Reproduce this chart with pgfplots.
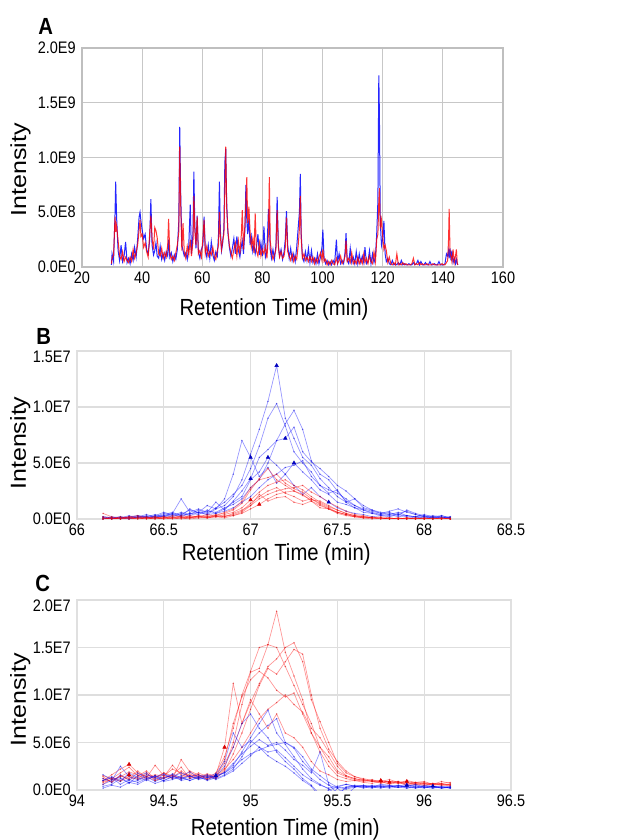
\documentclass[border=0pt]{standalone}
\usepackage{pgfplots}
\pgfplotsset{compat=1.18}
\usepackage{pgfplotstable}
\usepackage{graphicx}
\usepackage{fontspec}
\setmainfont{Liberation Sans}[FakeStretch=0.87]
\newfontfamily\plainsans{Liberation Sans}

% panel A: total ion chromatograms (intensity in 1E8)
\pgfplotstableread{
t b r
29.8 0.2 0.3
30.0 1.2 0.8
30.5 0.5 1.1
31.0 5.0 4.6
31.2 7.8 3.2
31.5 4.6 3.8
32.0 1.5 2.4
32.5 0.6 1.0
33.0 2.0 0.7
33.5 0.5 1.4
34.0 1.0 0.5
34.5 2.3 0.9
35.0 0.4 0.6
35.5 0.8 0.4
36.0 0.3 0.9
36.5 1.2 0.5
37.0 0.6 1.6
37.5 1.8 0.8
38.0 0.9 1.3
38.5 2.5 2.0
39.0 4.6 3.4
39.3 5.0 4.3
39.6 4.2 2.8
40.0 3.4 3.0
40.5 2.6 1.8
41.0 3.0 2.2
41.5 1.6 1.4
42.0 1.2 0.9
42.5 2.4 3.0
42.9 6.2 4.7
43.3 2.0 2.6
43.8 1.1 1.6
44.2 1.5 3.6
44.6 2.2 3.3
45.0 1.0 2.7
45.5 0.8 1.2
46.0 1.9 1.0
46.5 0.7 1.7
47.0 1.2 0.8
47.5 0.6 1.3
48.0 1.4 0.9
48.5 1.0 2.0
48.8 2.5 4.4
49.2 0.9 1.2
49.7 1.3 0.7
50.2 0.5 1.0
50.7 1.1 0.6
51.2 0.7 1.3
51.7 1.6 2.0
52.2 4.2 3.2
52.5 12.8 11.0
52.8 7.0 6.0
53.2 2.0 1.5
53.6 1.5 4.0
54.0 1.0 1.4
54.5 1.3 0.8
55.0 0.7 1.9
55.5 1.9 1.1
56.0 5.7 2.5
56.4 1.2 1.0
56.9 3.0 2.3
57.2 8.7 6.5
57.5 4.0 3.4
57.9 1.7 2.0
58.3 4.7 4.6
58.7 1.4 1.2
59.2 0.8 1.5
59.7 1.6 0.9
60.2 2.0 2.6
60.6 4.6 4.3
61.0 1.6 1.2
61.5 0.9 1.9
62.0 2.0 1.0
62.5 0.8 1.4
63.0 2.3 1.1
63.5 1.1 1.8
64.0 0.6 1.0
64.5 1.4 0.7
65.0 1.0 1.5
65.4 3.0 2.0
65.7 7.8 5.0
66.0 3.5 2.8
66.4 1.5 1.6
66.8 2.2 2.5
67.2 3.6 3.0
67.5 9.5 7.0
67.8 10.8 11.0
68.1 6.0 5.5
68.5 3.2 3.4
69.0 1.8 2.0
69.5 1.0 1.3
70.0 1.7 0.8
70.5 2.6 1.6
71.0 1.2 2.2
71.5 2.8 1.0
72.0 1.5 2.4
72.5 0.9 1.2
73.0 1.9 3.0
73.3 2.4 5.2
73.7 1.2 1.6
74.2 3.5 4.0
74.5 7.5 6.0
74.8 4.3 8.2
75.1 3.0 4.0
75.5 4.4 5.5
75.9 2.0 3.2
76.3 2.8 1.8
76.8 1.4 2.6
77.2 2.0 1.3
77.6 1.2 4.9
78.0 1.8 1.5
78.5 3.0 1.0
79.0 1.1 2.2
79.5 2.2 1.0
80.0 1.0 1.6
80.5 3.7 1.2
81.0 0.9 1.9
81.5 1.4 0.8
82.0 5.3 3.0
82.3 4.0 8.2
82.6 1.6 2.4
83.0 0.8 1.3
83.5 1.6 0.7
84.0 0.7 1.1
84.5 2.0 1.6
84.9 6.4 5.2
85.3 2.0 1.8
85.7 1.0 0.9
86.2 1.6 1.4
86.7 0.7 0.8
87.2 1.4 1.0
87.6 2.5 1.8
88.0 5.1 4.5
88.4 2.0 1.4
88.9 0.8 1.0
89.4 1.7 0.6
89.9 0.6 1.2
90.4 1.2 0.5
90.9 0.5 1.0
91.4 1.8 0.7
91.9 3.6 2.0
92.3 5.0 3.5
92.6 8.5 6.5
92.9 3.0 2.6
93.3 0.9 0.8
93.8 0.5 1.2
94.3 1.4 0.6
94.8 0.6 0.9
95.3 1.7 0.5
95.8 0.4 1.0
96.3 1.5 0.5
96.8 0.4 0.9
97.3 0.8 0.3
97.8 0.3 0.8
98.3 1.2 0.4
98.8 0.3 0.9
99.3 0.9 1.3
99.8 1.8 0.6
100.1 3.4 1.6
100.5 0.8 0.5
101.0 0.3 0.7
101.5 0.6 0.2
102.0 0.2 0.5
102.5 0.5 0.2
103.0 0.2 0.6
103.5 0.6 0.3
104.0 0.3 0.2
104.6 2.5 0.8
105.0 0.4 0.3
105.5 1.2 0.6
106.0 0.3 1.0
106.5 0.6 0.3
107.0 0.3 0.5
107.5 1.4 1.0
107.8 3.1 2.4
108.2 0.6 0.5
108.7 0.3 0.8
109.2 1.7 0.4
109.7 0.4 1.3
110.2 0.9 0.3
110.7 0.3 0.6
111.2 1.4 0.3
111.7 0.3 0.9
112.2 1.2 0.3
112.7 0.4 0.7
113.2 1.0 0.3
113.7 0.4 1.2
114.1 1.8 0.4
114.6 0.3 0.8
115.1 0.5 0.3
115.6 1.5 1.0
116.1 0.3 0.5
116.6 1.2 0.3
117.1 0.4 1.4
117.6 1.0 0.5
118.0 3.0 2.5
118.4 6.0 3.0
118.7 17.5 6.0
118.9 14.0 7.2
119.2 4.0 3.5
119.6 2.0 4.3
120.0 2.6 2.8
120.4 4.2 1.6
120.8 1.2 2.0
121.2 0.5 1.5
121.7 0.8 0.4
122.2 0.3 0.9
122.7 0.2 0.3
123.2 0.6 0.2
123.7 0.2 0.4
124.2 0.3 0.2
124.7 0.2 1.2
125.2 0.4 0.2
125.7 0.2 0.3
126.2 0.6 0.2
126.7 0.2 0.4
127.2 0.3 0.2
127.7 0.2 0.3
128.2 0.2 0.2
128.7 0.3 0.2
129.2 0.2 0.2
129.7 0.2 0.3
130.2 0.4 0.8
130.7 0.2 0.2
131.2 0.3 0.3
131.7 0.6 0.2
132.2 0.2 0.4
132.7 0.5 0.2
133.2 0.2 0.3
133.7 0.2 0.2
134.2 0.4 0.2
134.7 0.2 0.3
135.2 0.2 0.2
135.7 0.5 0.2
136.2 0.2 0.2
136.7 0.2 0.3
137.2 0.3 0.2
137.7 0.2 0.2
138.2 0.2 0.2
138.7 0.5 0.2
139.2 0.2 0.2
139.7 0.2 0.3
140.2 0.2 0.2
140.7 0.3 0.2
141.2 1.2 0.4
141.6 1.0 0.6
141.9 1.5 2.6
142.1 0.8 5.3
142.4 1.7 1.2
142.7 0.6 1.0
143.0 1.5 0.5
143.4 0.4 1.6
143.8 0.8 0.4
144.2 0.3 1.0
144.5 0.7 1.6
144.8 0.3 0.3
145.0 0.2 0.2
}\dataA

% panel B: extracted ion chromatograms (intensity in 1E6)
\pgfplotstableread{
t b1 b2 b3 b4 b5 b6 b7
66.15 0.1 0.2 0.0 0.1 0.2 0.1 0.0
66.20 0.0 0.1 0.1 0.0 0.1 0.2 0.1
66.25 0.1 0.0 0.2 0.1 0.2 0.1 0.1
66.30 0.1 0.2 0.1 0.3 0.0 0.2 0.0
66.35 0.2 0.1 0.3 0.1 0.2 0.3 0.2
66.40 0.1 0.3 0.2 0.2 0.4 0.1 0.2
66.45 0.3 0.2 0.1 0.4 0.2 0.3 0.1
66.50 0.2 0.5 0.4 0.2 0.3 0.6 0.3
66.55 0.4 0.3 0.6 0.5 0.5 0.4 0.2
66.60 0.3 0.6 0.3 1.8 0.4 0.2 0.5
66.65 0.5 0.4 0.9 0.6 0.8 0.5 0.3
66.70 0.6 0.8 0.5 0.9 0.6 0.4 0.6
66.75 0.4 0.5 0.7 0.6 1.2 0.8 0.4
66.80 0.9 1.0 0.6 1.5 0.9 0.5 0.5
66.85 1.2 1.5 1.0 0.8 1.8 0.9 0.7
66.90 2.0 2.2 1.3 1.6 4.0 1.5 1.0
66.95 3.5 3.0 1.8 2.5 7.0 2.0 1.5
67.00 5.8 4.5 2.8 3.6 5.5 3.5 2.0
67.05 8.0 6.5 3.5 5.5 3.8 4.2 2.8
67.10 10.5 9.0 5.0 6.2 4.6 5.5 3.5
67.15 13.7 10.3 7.0 7.0 3.2 4.8 4.0
67.20 9.0 8.3 8.5 7.2 4.0 4.0 4.6
67.25 7.2 6.0 9.7 8.2 3.0 5.0 4.8
67.30 5.5 5.0 8.0 6.0 2.2 4.2 5.2
67.35 4.8 4.2 5.2 5.1 2.8 3.5 3.8
67.40 3.6 3.0 4.0 4.5 2.0 2.6 3.0
67.45 2.8 2.6 3.5 3.8 1.5 2.2 2.3
67.50 2.0 2.3 2.5 3.0 1.0 1.5 2.6
67.55 1.5 1.8 1.6 2.5 0.7 1.3 1.5
67.60 1.0 1.2 1.2 1.8 0.5 1.0 1.8
67.65 0.6 0.8 0.9 1.2 0.4 0.8 1.0
67.70 0.5 0.5 0.7 0.8 0.2 0.6 0.8
67.75 0.3 0.4 0.5 0.5 0.3 0.4 0.6
67.80 0.4 0.6 0.4 0.7 0.2 0.3 0.5
67.85 0.2 0.3 0.6 0.9 0.4 0.5 0.4
67.90 0.3 0.8 0.3 0.6 0.2 0.7 0.3
67.95 0.2 0.5 0.2 0.4 0.1 0.4 0.2
68.00 0.1 0.3 0.4 0.2 0.2 0.2 0.3
68.05 0.2 0.2 0.2 0.3 0.1 0.1 0.1
68.10 0.1 0.3 0.1 0.2 0.3 0.2 0.1
68.15 0.1 0.1 0.2 0.1 0.1 0.0 0.2
}\dataBblue

\pgfplotstableread{
t r1 r2 r3 r4 r5 r6 r7
66.15 0.5 0.1 0.2 0.0 0.1 0.0 0.0
66.20 0.2 0.0 0.1 0.1 0.0 0.0 0.1
66.25 0.1 0.2 0.0 0.0 0.1 0.1 0.0
66.30 0.2 0.1 0.1 0.2 0.0 0.1 0.0
66.35 0.3 0.1 0.2 0.0 0.1 0.0 0.1
66.40 0.1 0.2 0.1 0.1 0.0 0.1 0.0
66.45 0.2 0.1 0.0 0.2 0.1 0.0 0.1
66.50 0.1 0.2 0.1 0.0 0.2 0.1 0.0
66.55 0.3 0.1 0.2 0.1 0.0 0.1 0.1
66.60 0.2 0.3 0.1 0.2 0.1 0.0 0.1
66.65 0.1 0.2 0.3 0.1 0.2 0.1 0.0
66.70 0.3 0.2 0.2 0.3 0.1 0.2 0.1
66.75 0.2 0.4 0.3 0.1 0.2 0.1 0.1
66.80 0.4 0.3 0.2 0.3 0.3 0.2 0.2
66.85 0.5 0.6 0.4 0.2 0.2 0.3 0.1
66.90 0.8 0.9 0.6 0.5 0.4 0.3 0.3
66.95 1.4 1.6 1.0 0.8 0.7 0.5 0.6
67.00 2.6 2.8 1.7 1.2 1.4 0.9 1.2
67.05 3.6 3.5 2.4 1.8 2.0 1.3 2.2
67.10 4.5 3.7 3.0 2.2 2.5 1.8 1.6
67.15 3.5 4.0 3.3 2.5 2.8 2.2 1.9
67.20 3.0 3.2 3.5 2.7 2.3 2.4 2.0
67.25 2.5 2.7 3.0 2.8 2.0 2.5 1.5
67.30 2.2 2.4 2.6 3.0 1.6 2.1 1.3
67.35 1.6 1.8 2.0 2.4 1.8 1.7 1.6
67.40 1.2 1.4 1.5 2.0 1.3 1.6 1.0
67.45 0.9 1.0 1.1 1.5 0.9 1.2 0.9
67.50 0.5 0.6 0.8 1.1 0.6 0.8 0.6
67.55 0.3 0.4 0.5 0.7 0.4 0.5 0.4
67.60 0.2 0.2 0.3 0.4 0.3 0.3 0.2
67.65 0.1 0.2 0.2 0.3 0.1 0.2 0.1
67.70 0.1 0.1 0.1 0.1 0.2 0.1 0.0
67.75 0.0 0.1 0.2 0.1 0.0 0.1 0.1
67.80 0.1 0.0 0.1 0.0 0.1 0.0 0.0
67.85 0.0 0.1 0.0 0.1 0.0 0.0 0.0
67.90 0.1 0.0 0.1 0.0 0.0 0.1 0.0
67.95 0.0 0.1 0.0 0.0 0.1 0.0 0.0
68.00 0.0 0.0 0.1 0.1 0.0 0.0 0.0
68.05 0.1 0.0 0.0 0.0 0.0 0.0 0.0
68.10 0.0 0.1 0.0 0.0 0.0 0.1 0.0
68.15 0.0 0.0 0.1 0.0 0.0 0.0 0.0
}\dataBred

% panel C (intensity in 1E6)
\pgfplotstableread{
t b1 b2 b3 b4 b5 b6 b7
94.15 1.2 0.6 1.0 1.6 0.4 0.2 1.0
94.20 0.8 1.0 1.4 1.1 0.6 0.5 1.3
94.25 1.6 2.5 0.9 1.3 1.2 0.3 0.6
94.30 1.0 1.4 1.8 0.7 0.8 0.8 1.1
94.35 1.8 1.1 1.3 1.5 1.0 0.6 0.8
94.40 1.2 1.6 1.0 1.8 1.4 1.1 1.2
94.45 1.4 1.3 1.5 1.1 0.9 0.7 1.5
94.50 1.7 1.0 1.2 1.6 1.3 1.0 0.9
94.55 1.2 1.4 1.7 1.3 1.6 1.4 1.1
94.60 1.5 1.8 1.3 1.1 1.0 1.2 1.4
94.65 1.9 1.4 1.0 1.5 1.2 1.5 1.0
94.70 1.3 1.6 1.4 1.2 1.4 1.1 1.3
94.75 1.1 1.3 1.6 1.4 1.0 1.3 1.5
94.80 1.4 1.5 1.2 1.7 1.3 1.5 1.1
94.85 2.5 1.8 1.6 3.0 1.9 1.8 1.5
94.90 4.5 2.6 2.2 6.0 2.8 2.4 2.0
94.95 7.0 4.0 3.5 4.5 3.8 3.2 2.8
95.00 8.0 5.5 5.0 5.2 4.6 3.8 3.6
95.05 6.5 7.0 6.0 4.5 5.3 4.2 4.5
95.10 5.5 8.4 6.8 3.6 4.7 4.6 4.0
95.15 4.0 6.0 7.5 3.0 5.0 4.8 4.2
95.20 3.0 4.8 5.0 2.5 4.2 5.0 3.4
95.25 2.2 3.5 4.4 1.8 3.2 4.5 2.5
95.30 1.2 2.2 3.0 1.0 2.6 3.5 1.6
95.35 0.5 1.2 2.0 0.4 1.8 2.2 1.0
95.40 -0.5 0.6 1.1 -0.8 4.0 1.5 0.5
95.45 -1.0 0.1 0.5 0.0 0.6 0.8 0.2
95.50 0.2 -0.5 0.2 0.3 -0.4 0.3 0.4
95.55 0.3 0.3 -0.6 0.6 0.2 0.1 0.6
95.60 0.4 0.5 0.3 0.4 0.4 0.3 0.4
95.65 0.3 0.4 0.5 0.2 0.3 0.4 0.5
95.70 0.5 0.3 0.4 0.4 0.2 0.3 0.3
95.75 0.4 0.6 0.3 0.3 0.4 0.2 0.5
95.80 0.3 0.5 0.5 0.2 0.3 0.4 0.4
95.85 0.5 0.3 0.4 0.3 0.5 0.3 0.3
95.90 0.2 0.4 0.6 0.5 0.3 0.2 0.4
95.95 0.4 0.6 0.3 0.2 0.2 0.3 0.5
96.00 0.3 0.3 0.5 0.3 0.4 0.2 0.3
96.05 0.2 0.4 0.4 0.2 0.3 0.4 0.4
96.10 0.3 0.2 0.3 0.4 0.2 0.2 0.3
96.15 0.2 0.3 0.4 0.2 0.3 0.3 0.2
}\dataCblue

\pgfplotstableread{
t r1 r2 r3 r4 r5 r6 r7
94.15 1.0 1.4 0.6 0.9 1.2 0.8 1.5
94.20 1.6 0.8 1.2 1.3 0.9 1.1 1.2
94.25 2.2 1.5 1.8 1.0 1.5 1.4 0.9
94.30 2.7 1.2 2.4 1.6 1.1 1.9 1.4
94.35 1.8 2.0 1.5 1.2 1.4 1.6 1.1
94.40 1.4 1.3 2.0 1.8 1.6 1.1 1.4
94.45 1.6 2.6 1.2 1.0 1.3 1.5 1.0
94.50 1.5 1.5 1.8 1.4 1.8 1.2 1.3
94.55 2.2 1.2 1.5 2.6 1.3 1.6 1.5
94.60 1.8 3.2 1.3 1.6 2.0 2.4 1.2
94.65 1.5 1.9 2.0 1.3 1.4 1.2 1.7
94.70 1.6 1.4 1.6 1.8 1.2 1.6 1.3
94.75 1.2 1.7 1.1 1.4 1.6 1.1 1.5
94.80 1.8 1.5 1.5 1.2 1.4 1.6 1.3
94.85 3.5 2.8 2.3 2.0 3.2 4.5 2.2
94.90 6.5 4.5 5.0 3.8 7.0 11.2 3.2
94.95 10.0 7.0 9.0 6.0 9.8 7.0 4.5
95.00 12.5 9.2 12.4 8.5 11.6 9.5 6.0
95.05 15.0 11.2 12.8 11.0 12.5 8.0 7.5
95.10 15.3 13.0 15.3 12.8 11.8 6.5 8.5
95.15 18.8 13.8 15.0 12.2 10.5 8.0 9.2
95.20 14.5 15.0 13.0 13.5 9.8 6.0 10.0
95.25 12.0 15.5 11.0 14.8 10.2 5.5 9.0
95.30 9.5 13.5 9.0 14.3 8.0 4.5 8.2
95.35 6.0 9.5 7.0 10.0 6.0 3.0 6.5
95.40 4.0 7.2 4.5 6.5 4.5 2.0 5.5
95.45 2.5 5.0 3.5 4.3 3.0 1.6 4.0
95.50 1.5 2.8 2.0 3.0 1.8 1.1 2.5
95.55 1.2 1.8 1.5 2.0 1.4 0.9 1.5
95.60 1.0 1.4 1.2 1.4 1.1 1.0 1.2
95.65 1.1 1.2 1.0 1.1 0.9 0.8 1.0
95.70 0.9 1.0 1.1 0.9 1.0 0.7 0.9
95.75 1.0 0.9 0.8 1.0 0.7 0.9 0.8
95.80 0.8 1.1 0.9 0.8 0.9 0.6 0.9
95.85 0.9 0.8 0.7 0.9 0.8 0.8 0.7
95.90 0.7 0.9 1.0 0.6 0.6 0.5 0.8
95.95 0.8 0.7 0.8 0.8 0.7 0.6 0.6
96.00 0.9 0.8 0.6 0.7 0.5 0.7 0.5
96.05 0.6 0.6 0.7 0.6 0.6 0.5 0.7
96.10 0.7 0.9 0.5 0.5 0.7 0.6 0.6
96.15 0.8 0.7 0.6 0.6 0.5 0.4 0.5
}\dataCred

\pgfplotsset{
  panel/.style={
    scale only axis,
    anchor=south west,
    grid=major,
    xtick style={draw=none}, ytick style={draw=none},
    tick label style={font=\fontsize{12.5}{14}\selectfont, inner sep=0pt},
    yticklabel style={anchor=east, xshift=-4.5pt},
    xticklabel style={anchor=north, yshift=-3.75pt},
    xlabel style={font=\fontsize{17.5}{19}\selectfont, inner sep=0pt, anchor=north},
    ylabel style={inner sep=0pt, anchor=center},
    ylabel={\plainsans\fontsize{18.75}{20}\selectfont\scalebox{1}[0.87]{Intensity}},
    xlabel={Retention Time (min)},
    extra y tick style={ytick style={draw=none}, yticklabel style={yshift=-4.5pt}},
  },
  eic/.style={line width=0.5pt, mark=*, mark size=0.3pt,
    mark options={draw=none, fill=black!70, fill opacity=0.6}},
}

\begin{document}
\begin{tikzpicture}
\path[use as bounding box] (0,0) rectangle (479.25pt,630pt);

% ---- A ----
\begin{axis}[panel,
    at={(61.5pt,429.75pt)}, width=315.75pt, height=164.25pt,
    xmin=20, xmax=160, ymin=0, ymax=20,
    xtick={20,40,60,80,100,120,140,160},
    xticklabels={20,40,60,80,100,120,140,160},
    ytick={0,5,10,15,20},
    yticklabels={0.0E0,5.0E8,1.0E9,1.5E9,2.0E9},
    axis line style={black!25, line width=0.9pt},
    major grid style={black!22, line width=0.9pt},
    xlabel style={at={(axis description cs:0.456,0)}, yshift=-23.25pt},
    ylabel style={at={(axis description cs:-0.146,0.443)}},
  ]
  \addplot[blue, line width=0.75pt, opacity=0.85] table[x=t, y=b] {\dataA};
  \addplot[red, line width=0.75pt, opacity=0.8] table[x=t, y=r] {\dataA};
\end{axis}

% ---- B ----
\begin{axis}[panel,
    at={(57.75pt,240.75pt)}, width=325.5pt, height=126pt,
    xmin=66, xmax=68.5, ymin=0, ymax=15,
    xtick={66,66.5,67,67.5,68,68.5},
    xticklabels={66,66.5,67,67.5,68,68.5},
    ytick={0,5,10},
    yticklabels={0.0E0,5.0E6,1.0E7},
    extra y ticks={15}, extra y tick labels={1.5E7},
    axis line style={black!12, line width=0.8pt},
    major grid style={black!13, line width=0.8pt},
    xlabel style={at={(axis description cs:0.459,0)}, yshift=-18pt},
    ylabel style={at={(axis description cs:-0.131,0.452)}},
  ]
  \pgfplotsinvokeforeach{1,...,7}{
    \addplot[eic, draw=blue, draw opacity=0.42] table[x=t, y=b#1] {\dataBblue};
  }
  \pgfplotsinvokeforeach{1,...,7}{
    \addplot[eic, draw=red, draw opacity=0.42] table[x=t, y=r#1] {\dataBred};
  }
  \addplot[only marks, mark=triangle*, mark size=1.5pt, color=blue!75!black]
    coordinates {(67.15,13.7) (67.00,5.5) (67.10,5.5) (67.20,7.2) (67.25,5.0) (67.00,3.6) (67.45,1.5)};
  \addplot[only marks, mark=triangle*, mark size=1.5pt, color=red!85!black]
    coordinates {(67.00,1.7) (67.05,1.3)};
\end{axis}

% ---- C ----
\begin{axis}[panel,
    at={(57.75pt,37.5pt)}, width=325.5pt, height=142.5pt,
    xmin=94, xmax=96.5, ymin=0, ymax=20,
    xtick={94,94.5,95,95.5,96,96.5},
    xticklabels={94,94.5,95,95.5,96,96.5},
    ytick={0,5,10,15},
    yticklabels={0.0E0,5.0E6,1.0E7,1.5E7},
    extra y ticks={20}, extra y tick labels={2.0E7},
    axis line style={black!12, line width=0.8pt},
    major grid style={black!13, line width=0.8pt},
    xlabel style={at={(axis description cs:0.48,0)}, yshift=-21pt},
    ylabel style={at={(axis description cs:-0.131,0.474)}},
  ]
  \pgfplotsinvokeforeach{1,...,7}{
    \addplot[eic, draw=red, draw opacity=0.42] table[x=t, y=r#1] {\dataCred};
  }
  \pgfplotsinvokeforeach{1,...,7}{
    \addplot[eic, draw=blue, draw opacity=0.42] table[x=t, y=b#1] {\dataCblue};
  }
  \addplot[only marks, mark=triangle*, mark size=1.5pt, color=red!85!black]
    coordinates {(94.30,2.7) (94.30,1.6) (94.85,4.5) (95.75,1.0) (95.80,0.8) (95.90,0.9)};
  \addplot[only marks, mark=triangle*, mark size=1.5pt, color=blue!75!black]
    coordinates {(94.80,1.5) (95.90,0.5) (96.05,0.4)};
\end{axis}

\node[anchor=base west, inner sep=0pt, font=\bfseries\fontsize{17.5}{18}\selectfont] at (28.5pt,603.75pt) {A};
\node[anchor=base west, inner sep=0pt, font=\bfseries\fontsize{17.5}{18}\selectfont] at (27pt,371.25pt) {B};
\node[anchor=base west, inner sep=0pt, font=\bfseries\fontsize{17.5}{18}\selectfont] at (26.25pt,186pt) {C};
\end{tikzpicture}
\end{document}
